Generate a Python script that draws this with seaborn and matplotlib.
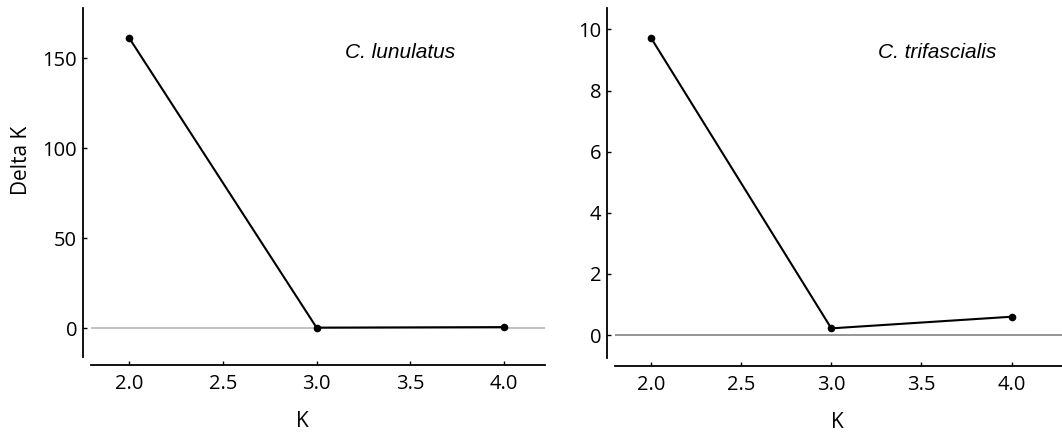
import numpy as np
import pandas as pd
import seaborn as sns
import matplotlib.pyplot as plt

# Delta K values
k_values = [2.0, 3.0, 4.0]
delta_lunulatus = [161.0, 0.3, 0.6]
delta_trifascialis = [9.72, 0.22, 0.6]

x_ticks = [2.0, 2.5, 3.0, 3.5, 4.0]
ticks_lunulatus = [0, 50, 100, 150]
ticks_trifascialis = [0, 2, 4, 6, 8, 10]

sns.set_style("ticks")
plt.rcParams['font.family'] = ['Open Sans', 'DejaVu Sans']
plt.rcParams['text.color'] = 'black'
plt.rcParams['axes.labelcolor'] = 'black'
plt.rcParams['xtick.labelcolor'] = 'black'
plt.rcParams['ytick.labelcolor'] = 'black'

fig = plt.figure(figsize=(10.62, 4.34), dpi=100)
ax1 = fig.add_axes([91 / 1062, 77 / 434, 454 / 1062, 349 / 434])
ax2 = fig.add_axes([615 / 1062, 76 / 434, 447 / 1062, 350 / 434])

df1 = pd.DataFrame({"K": k_values, "Delta K": delta_lunulatus})
df2 = pd.DataFrame({"K": k_values, "Delta K": delta_trifascialis})

panels = [
    (ax1, df1, ticks_lunulatus, (-16, 177.8), (1.795, 4.22), "C. lunulatus", 0.68, "#bdbdbd"),
    (ax2, df2, ticks_trifascialis, (-0.75, 10.7), (1.80, 4.28), "C. trifascialis", 0.72, "#8c8c8c"),
]

for ax, df, yt, ylim, xlim, name, tx, zcol in panels:
    ax.axhline(0, color=zcol, lw=1.3, zorder=1)
    sns.lineplot(data=df, x="K", y="Delta K", ax=ax, color="black", lw=1.5,
                 marker="o", markersize=5.5, markeredgewidth=0, zorder=3)
    ax.set_xlim(*xlim)
    ax.set_ylim(*ylim)
    ax.set_xticks(x_ticks)
    ax.set_xticklabels([f"{t:.1f}" for t in x_ticks])
    ax.set_yticks(yt)
    ax.tick_params(direction="in", length=3, width=1, labelsize=14.5, color="black",
                   labelcolor="black")
    ax.tick_params(axis="x", pad=6)
    ax.tick_params(axis="y", pad=4)
    sns.despine(ax=ax, offset=6)
    for sp in ["left", "bottom"]:
        ax.spines[sp].set_linewidth(1.3)
        ax.spines[sp].set_color("black")
    ax.text(tx, 0.872, name, transform=ax.transAxes, fontsize=15, style="italic",
            family=["Liberation Sans", "DejaVu Sans"], ha="center", va="center")
    ax.set_xlabel("K", fontsize=15)
    ax.set_ylabel("")

ax1.set_ylabel("Delta K", fontsize=15)
ax1.yaxis.set_label_coords(-0.13, 0.564)
ax1.xaxis.set_label_coords(0.465, -0.155)
ax2.xaxis.set_label_coords(0.497, -0.155)

fig.savefig("out.png", dpi=100)
